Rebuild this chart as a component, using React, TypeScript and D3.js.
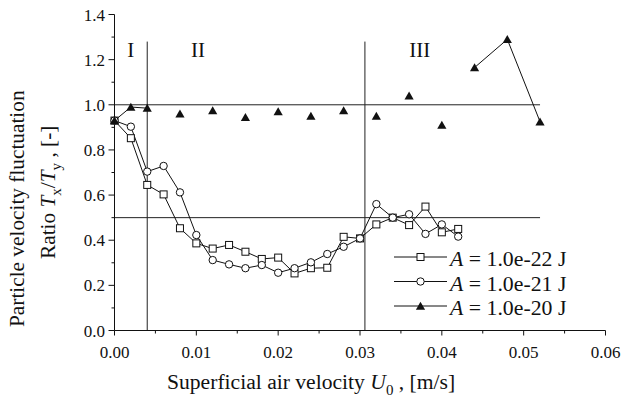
import React from "react";
import * as d3 from "d3";

const uSeries = [0, 0.002, 0.004, 0.006, 0.008, 0.01, 0.012, 0.014, 0.016, 0.018, 0.02, 0.022, 0.024, 0.026, 0.028, 0.03, 0.032, 0.034, 0.036, 0.038, 0.04, 0.042];
const ratioA22 = [0.93, 0.852, 0.645, 0.603, 0.453, 0.386, 0.363, 0.379, 0.349, 0.317, 0.323, 0.253, 0.276, 0.278, 0.415, 0.408, 0.47, 0.5, 0.467, 0.549, 0.435, 0.45];
const ratioA21 = [0.93, 0.903, 0.704, 0.729, 0.612, 0.423, 0.312, 0.293, 0.276, 0.29, 0.256, 0.276, 0.302, 0.339, 0.371, 0.408, 0.56, 0.5, 0.515, 0.428, 0.47, 0.416];
const uA20 = [0, 0.002, 0.004, 0.008, 0.012, 0.016, 0.02, 0.024, 0.028, 0.032, 0.036, 0.04, 0.044, 0.048, 0.052];
const ratioA20 = [0.93, 0.99, 0.985, 0.96, 0.975, 0.945, 0.97, 0.95, 0.975, 0.95, 1.04, 0.91, 1.165, 1.29, 0.925];
const a20LinkedRuns = [[0, 1, 2], [12, 13, 14]];

const refH = [1.0, 0.5];
const refHEnd = 0.052;
const refV = [0.004, 0.0306];
const refVTop = 1.28;
const regionLabels = ["I", "II", "III"];
const regionU = [0.002, 0.0102, 0.0373];
const regionRatio = 1.212;

const xMajor = [0, 0.01, 0.02, 0.03, 0.04, 0.05, 0.06];
const xMinor = [0.005, 0.015, 0.025, 0.035, 0.045, 0.055];
const yMajor = [0, 0.2, 0.4, 0.6, 0.8, 1.0, 1.2, 1.4];
const yMinor = [0.1, 0.3, 0.5, 0.7, 0.9, 1.1, 1.3];
const legendLabels = ["1.0e-22 J", "1.0e-21 J", "1.0e-20 J"];

const FONT = '"Liberation Serif", "Times New Roman", Tinos, "DejaVu Serif", serif';

export default function App() {
  const x = d3.scaleLinear().domain([0, 0.06]).range([114.5, 605.5]);
  const y = d3.scaleLinear().domain([0, 1.4]).range([330.5, 14.5]);
  const line = d3
    .line<[number, number]>()
    .x((d) => x(d[0]))
    .y((d) => y(d[1]));

  const sq = uSeries.map((u, i) => [u, ratioA22[i]] as [number, number]);
  const ci = uSeries.map((u, i) => [u, ratioA21[i]] as [number, number]);
  const tr = uA20.map((u, i) => [u, ratioA20[i]] as [number, number]);

  const square = (cx: number, cy: number, k: string) => (
    <rect key={k} x={cx - 3.5} y={cy - 3.5} width={7} height={7} fill="white" stroke="#111" strokeWidth={1} />
  );
  const circle = (cx: number, cy: number, k: string) => (
    <circle key={k} cx={cx} cy={cy} r={3.7} fill="white" stroke="#111" strokeWidth={1} />
  );
  const tri = (cx: number, cy: number, k: string) => (
    <path key={k} d={`M${cx},${cy - 4.3}L${cx + 4.6},${cy + 3.7}L${cx - 4.6},${cy + 3.7}Z`} fill="#111" />
  );

  const legendY = [257, 281.5, 306];
  const legendMarkers = [square, circle, tri];
  const ts = { fontFamily: FONT };

  return (
    <svg width={624} height={401} style={{ position: "absolute", left: 0, top: 0, background: "white", fontFamily: FONT }}>
      <rect width={624} height={401} fill="white" />
      {refH.map((v, i) => (
        <line key={"h" + i} x1={x(0)} x2={x(refHEnd)} y1={y(v)} y2={y(v)} stroke="#222" strokeWidth={1} />
      ))}
      {refV.map((v, i) => (
        <line key={"v" + i} x1={x(v)} x2={x(v)} y1={y(0)} y2={y(refVTop)} stroke="#222" strokeWidth={1} />
      ))}
      {regionLabels.map((t, i) => (
        <text key={"r" + i} style={ts} x={x(regionU[i])} y={y(regionRatio)} textAnchor="middle" fontSize={21} fill="#111">
          {t}
        </text>
      ))}

      <line x1={x(0)} x2={x(0.06)} y1={y(0)} y2={y(0)} stroke="#111" />
      <line x1={x(0)} x2={x(0)} y1={y(0)} y2={y(1.4)} stroke="#111" />
      {xMajor.map((v, i) => (
        <g key={"xm" + i}>
          <line x1={x(v)} x2={x(v)} y1={y(0)} y2={y(0) + 5} stroke="#111" />
          <text style={ts} x={x(v)} y={358} textAnchor="middle" fontSize={17} fill="#111">
            {d3.format(".2f")(v)}
          </text>
        </g>
      ))}
      {xMinor.map((v, i) => (
        <line key={"xn" + i} x1={x(v)} x2={x(v)} y1={y(0)} y2={y(0) + 3} stroke="#111" />
      ))}
      {yMajor.map((v, i) => (
        <g key={"ym" + i}>
          <line x1={x(0) - 6} x2={x(0)} y1={y(v)} y2={y(v)} stroke="#111" />
          <text style={ts} x={105} y={y(v) + 6} textAnchor="end" fontSize={17} fill="#111">
            {d3.format(".1f")(v)}
          </text>
        </g>
      ))}
      {yMinor.map((v, i) => (
        <line key={"yn" + i} x1={x(0) - 3} x2={x(0)} y1={y(v)} y2={y(v)} stroke="#111" />
      ))}

      <path d={line(sq) || ""} fill="none" stroke="#111" strokeWidth={1} />
      <path d={line(ci) || ""} fill="none" stroke="#111" strokeWidth={1} />
      {a20LinkedRuns.map((run, i) => (
        <path key={"tl" + i} d={line(run.map((j) => tr[j])) || ""} fill="none" stroke="#111" strokeWidth={1} />
      ))}
      {sq.map((d, i) => square(x(d[0]), y(d[1]), "s" + i))}
      {ci.map((d, i) => circle(x(d[0]), y(d[1]), "c" + i))}
      {tr.map((d, i) => tri(x(d[0]), y(d[1]), "t" + i))}

      {legendLabels.map((lab, i) => (
        <g key={"lg" + i}>
          <line x1={394} x2={447} y1={legendY[i]} y2={legendY[i]} stroke="#111" />
          {legendMarkers[i](420.5, legendY[i], "lm" + i)}
          <text style={ts} x={450} y={legendY[i] + 9} fontSize={21.8} fill="#111">
            <tspan fontStyle="italic">A</tspan>
            <tspan>{" = " + lab}</tspan>
          </text>
        </g>
      ))}

      <text style={ts} x={167} y={389} fontSize={21.6} fill="#111">
        <tspan>Superficial air velocity </tspan>
        <tspan fontStyle="italic">U</tspan>
        <tspan fontSize={15} dy={6}>0</tspan>
        <tspan dy={-6}>{" , [m/s]"}</tspan>
      </text>
      <text style={ts} transform="translate(24,327) rotate(-90)" fontSize={21.3} fill="#111">
        Particle velocity fluctuation
      </text>
      <text style={ts} transform="translate(55,259) rotate(-90)" fontSize={21.3} fill="#111">
        <tspan>Ratio </tspan>
        <tspan fontStyle="italic">T</tspan>
        <tspan fontSize={15} dy={6}>x</tspan>
        <tspan dy={-6}>/</tspan>
        <tspan fontStyle="italic">T</tspan>
        <tspan fontSize={15} dy={6}>y</tspan>
        <tspan dy={-6}>{" , [-]"}</tspan>
      </text>
    </svg>
  );
}
